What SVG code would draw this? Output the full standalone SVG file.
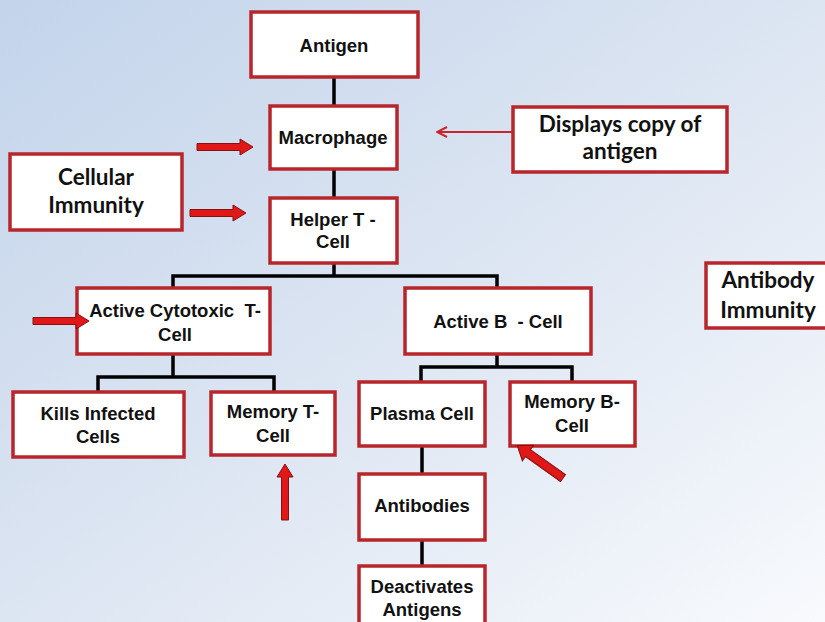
<svg xmlns="http://www.w3.org/2000/svg" width="825" height="622" viewBox="0 0 825 622">
<defs>
<linearGradient id="bg" x1="0" y1="0" x2="1" y2="1">
<stop offset="0" stop-color="#C3D4EB"/>
<stop offset="0.5" stop-color="#DCE5F2"/>
<stop offset="1" stop-color="#F8FAFD"/>
</linearGradient>
<polygon id="blk" points="0,-3.5 43,-3.5 43,-8 56,0 43,8 43,3.5 0,3.5"/>
<marker id="open" viewBox="0 0 12 12" refX="11" refY="6" markerWidth="12" markerHeight="12" markerUnits="userSpaceOnUse" orient="auto">
<path d="M1,1 L11,6 L1,11" fill="none" stroke="#C8262C" stroke-width="2"/>
</marker>
</defs>
<style>
.box{fill:#FFFFFF;stroke:#B8262B;stroke-width:3.5}
.t{font-family:"Liberation Sans",Arial,sans-serif;font-weight:bold;font-size:18.5px;fill:#111;text-anchor:middle}
.c{font-family:Lato,"Liberation Sans",sans-serif;font-weight:bold;font-size:22.5px;fill:#111;text-anchor:middle}
.ln{fill:none;stroke:#000;stroke-width:3.5}
.ba{fill:#E01818;stroke:#8A0F0F;stroke-width:1}
</style>
<rect width="825" height="622" fill="url(#bg)"/>
<g id="connectors">
<path class="ln" d="M334,77 V106 M334,169 V198 M334,263 V276 M173,288 V276 H497 V288"/>
<path class="ln" d="M173,354 V377 M98,392 V377 H274 V392"/>
<path class="ln" d="M497,354 V367 M421,382 V367 H572 V382"/>
<path class="ln" d="M422,446 V474 M422,540 V566"/>
<line x1="513" y1="132" x2="437" y2="132" stroke="#C8262C" stroke-width="2" marker-end="url(#open)"/>
</g>
<g id="antigen"><rect class="box" x="251" y="12" width="167" height="65"/><text class="t" x="334" y="52">Antigen</text></g>
<g id="macrophage"><rect class="box" x="270" y="106" width="127" height="63"/><text class="t" x="333" y="144">Macrophage</text></g>
<g id="helper"><rect class="box" x="270" y="198" width="127" height="65"/><text class="t" x="333" y="226">Helper T -</text><text class="t" x="333" y="248">Cell</text></g>
<g id="cellular"><rect class="box" x="10" y="154" width="172" height="76"/><text class="c" x="96" y="185">Cellular</text><text class="c" x="96" y="213">Immunity</text></g>
<g id="displays"><rect class="box" x="513" y="107" width="214" height="65"/><text class="c" x="620" y="132">Displays copy of</text><text class="c" x="620" y="159">antigen</text></g>
<g id="cytotoxic"><rect class="box" x="77" y="288" width="193" height="66"/><text class="t" x="175" y="317" xml:space="preserve">Active Cytotoxic  T-</text><text class="t" x="175" y="341">Cell</text></g>
<g id="activeb"><rect class="box" x="405" y="288" width="186" height="66"/><text class="t" x="498" y="328" xml:space="preserve">Active B  - Cell</text></g>
<g id="antibodyimm"><rect class="box" x="706" y="263" width="124" height="65"/><text class="c" x="768" y="288">Antibody</text><text class="c" x="768" y="318">Immunity</text></g>
<g id="kills"><rect class="box" x="13" y="392" width="171" height="65"/><text class="t" x="98" y="420">Kills Infected</text><text class="t" x="98" y="443">Cells</text></g>
<g id="memoryt"><rect class="box" x="211" y="392" width="124" height="63"/><text class="t" x="273" y="418">Memory T-</text><text class="t" x="273" y="442">Cell</text></g>
<g id="plasma"><rect class="box" x="359" y="382" width="126" height="64"/><text class="t" x="422" y="420">Plasma Cell</text></g>
<g id="memoryb"><rect class="box" x="510" y="382" width="125" height="64"/><text class="t" x="572" y="408">Memory B-</text><text class="t" x="572" y="432">Cell</text></g>
<g id="antibodies"><rect class="box" x="359" y="474" width="126" height="66"/><text class="t" x="422" y="512">Antibodies</text></g>
<g id="deactivates"><rect class="box" x="359" y="566" width="126" height="66"/><text class="t" x="422" y="593">Deactivates</text><text class="t" x="422" y="616">Antigens</text></g>
<g id="arrows">
<use href="#blk" class="ba" transform="translate(197,147)"/>
<use href="#blk" class="ba" transform="translate(190,213)"/>
<use href="#blk" class="ba" transform="translate(33,321)"/>
<use href="#blk" class="ba" transform="translate(285,520) rotate(-90)"/>
<use href="#blk" class="ba" transform="translate(563,478) rotate(215.4) scale(1,1.2)"/>
</g>
</svg>
